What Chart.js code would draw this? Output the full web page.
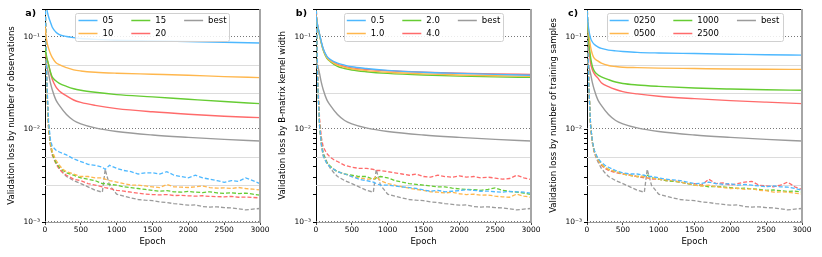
<!DOCTYPE html>
<html>
<head>
<meta charset="utf-8">
<script src="https://cdn.jsdelivr.net/npm/chart.js@4.4.1/dist/chart.umd.min.js"></script>
<style>
  body { margin: 0; background: #fff; }
  canvas { position: absolute; top: 0; }
</style>
</head>
<body>
<canvas id="chartA" width="271" height="257" style="left:0px"></canvas>
<canvas id="chartB" width="271" height="257" style="left:271px"></canvas>
<canvas id="chartC" width="271" height="257" style="left:542px"></canvas>
<script>
const epochsSolid = [0, 25, 50, 75, 100, 150, 200, 300, 400, 500, 700, 1000, 1500, 2000, 2500, 3000];
const epochsDash = [0, 25, 50, 75, 100, 150, 200, 250, 300, 400,
  500, 600, 700, 800, 840, 900, 1000, 1100, 1200, 1300,
  1400, 1500, 1600, 1700, 1800, 1900, 2000, 2100, 2200, 2300,
  2400, 2500, 2600, 2700, 2800, 2900, 3000];

// "best" run, same in every panel
const bestSolid = [0.055, 0.048, 0.04, 0.032, 0.027, 0.021, 0.0182, 0.0145, 0.0125, 0.0115, 0.0104, 0.0095, 0.0087, 0.0082, 0.0078, 0.0075];
const bestDash = [0.3, 0.03, 0.011, 0.0072, 0.0056, 0.0045, 0.0038, 0.0034, 0.0031, 0.0028,
  0.0026, 0.0024, 0.0022, 0.0021, 0.0037, 0.0025, 0.002, 0.0019, 0.00182, 0.00175,
  0.00172, 0.0017, 0.00165, 0.00162, 0.00158, 0.00155, 0.00152, 0.00153, 0.00147, 0.00145,
  0.00146, 0.00143, 0.00142, 0.00139, 0.00135, 0.00138, 0.0014];

// a) number of observations
const namesA = ['05', '10', '15', '20'];
const aSolid05 = [0.3, 0.2, 0.165, 0.145, 0.128, 0.113, 0.106, 0.101, 0.098, 0.096, 0.094, 0.092, 0.0905, 0.089, 0.0875, 0.0857];
const aSolid10 = [0.13, 0.09, 0.075, 0.066, 0.06, 0.053, 0.05, 0.0465, 0.044, 0.0428, 0.0415, 0.0405, 0.0395, 0.0385, 0.0372, 0.0363];
const aSolid15 = [0.075, 0.06, 0.05, 0.042, 0.037, 0.0335, 0.0315, 0.0292, 0.0275, 0.0265, 0.0252, 0.0238, 0.0225, 0.0212, 0.02, 0.019];
const aSolid20 = [0.065, 0.058, 0.05, 0.041, 0.035, 0.029, 0.026, 0.023, 0.0208, 0.0196, 0.0182, 0.0168, 0.0155, 0.0146, 0.0139, 0.0134];
const aDash05 = [0.3, 0.035, 0.012, 0.0078, 0.0066, 0.006, 0.0057, 0.0055, 0.0053, 0.0048,
  0.0045, 0.0042, 0.0041, 0.0039, 0.0037, 0.0041, 0.0038, 0.0036, 0.0035, 0.0033,
  0.0034, 0.0034, 0.0033, 0.0035, 0.0032, 0.0031, 0.003, 0.0032, 0.003, 0.0029,
  0.0028, 0.00268, 0.0028, 0.00275, 0.003, 0.0028, 0.0026];
const aDash10 = [0.3, 0.03, 0.011, 0.0072, 0.0058, 0.0047, 0.0041, 0.0037, 0.0035, 0.0033,
  0.0031, 0.0031, 0.003, 0.003, 0.0029, 0.0028, 0.0027, 0.0026, 0.0025, 0.0025,
  0.00245, 0.0024, 0.00235, 0.00254, 0.0024, 0.00238, 0.00236, 0.0024, 0.00245, 0.00235,
  0.00232, 0.00234, 0.0023, 0.00236, 0.0023, 0.00226, 0.00222];
const aDash15 = [0.3, 0.028, 0.0105, 0.007, 0.0055, 0.0044, 0.0039, 0.0036, 0.0034, 0.0032,
  0.003, 0.0029, 0.0028, 0.0026, 0.0026, 0.00255, 0.0025, 0.0024, 0.00235, 0.0023,
  0.00225, 0.0022, 0.00215, 0.00218, 0.00212, 0.0021, 0.00214, 0.0021, 0.00208, 0.00212,
  0.00206, 0.00204, 0.00207, 0.00203, 0.00205, 0.002, 0.00195];
const aDash20 = [0.3, 0.027, 0.01, 0.0068, 0.0053, 0.0043, 0.0037, 0.0034, 0.0032, 0.0029,
  0.0028, 0.0026, 0.0025, 0.0024, 0.00235, 0.0023, 0.0022, 0.00215, 0.0021, 0.00205,
  0.002, 0.00198, 0.00196, 0.00198, 0.00193, 0.00194, 0.00192, 0.0019, 0.00192, 0.00189,
  0.00188, 0.00187, 0.00189, 0.00185, 0.00186, 0.00184, 0.00182];

// b) B-matrix kernel width
const namesB = ['0.5', '1.0', '2.0', '4.0'];
const bSolid05 = [0.17, 0.13, 0.107, 0.088, 0.075, 0.062, 0.057, 0.052, 0.0495, 0.0475, 0.0455, 0.0435, 0.0415, 0.0403, 0.0393, 0.0385];
const bSolid10 = [0.17, 0.128, 0.105, 0.086, 0.073, 0.06, 0.055, 0.0495, 0.047, 0.0452, 0.0432, 0.0415, 0.0398, 0.0388, 0.038, 0.0375];
const bSolid20 = [0.17, 0.127, 0.104, 0.085, 0.072, 0.059, 0.054, 0.048, 0.0455, 0.0438, 0.042, 0.0403, 0.0387, 0.0377, 0.037, 0.0365];
const bSolid40 = [0.175, 0.13, 0.106, 0.087, 0.074, 0.061, 0.056, 0.0505, 0.048, 0.0462, 0.0445, 0.043, 0.0415, 0.0405, 0.0398, 0.0393];
const bDash05 = [0.3, 0.03, 0.011, 0.0068, 0.0052, 0.0043, 0.0039, 0.0037, 0.0035, 0.0033,
  0.0031, 0.0029, 0.0028, 0.0027, 0.0026, 0.0025, 0.0025, 0.00245, 0.0024, 0.00235,
  0.0023, 0.00222, 0.00215, 0.0022, 0.00212, 0.00215, 0.00218, 0.00224, 0.0022, 0.00215,
  0.00216, 0.00212, 0.0021, 0.00214, 0.00212, 0.0021, 0.00205];
const bDash10 = [0.3, 0.03, 0.011, 0.0068, 0.0052, 0.0043, 0.0039, 0.0037, 0.0035, 0.0033,
  0.0031, 0.003, 0.0029, 0.0029, 0.0031, 0.0028, 0.0026, 0.0025, 0.0024, 0.00232,
  0.00225, 0.0022, 0.00212, 0.0021, 0.00206, 0.0021, 0.00202, 0.00198, 0.002, 0.00195,
  0.00196, 0.0019, 0.00187, 0.00185, 0.002, 0.0019, 0.00185];
const bDash20 = [0.3, 0.03, 0.011, 0.007, 0.0054, 0.0044, 0.004, 0.0037, 0.0035, 0.0033,
  0.0032, 0.0031, 0.0031, 0.0029, 0.003, 0.0031, 0.003, 0.0028, 0.0027, 0.0026,
  0.00255, 0.0025, 0.00245, 0.0024, 0.0024, 0.00232, 0.00228, 0.00225, 0.00224, 0.0022,
  0.00225, 0.00234, 0.0022, 0.00214, 0.0021, 0.00205, 0.00198];
const bDash40 = [0.3, 0.035, 0.013, 0.0082, 0.0065, 0.0055, 0.005, 0.0047, 0.0045, 0.0041,
  0.0039, 0.0038, 0.0038, 0.0037, 0.0036, 0.0036, 0.0035, 0.0034, 0.0033, 0.0032,
  0.0033, 0.0031, 0.00305, 0.0032, 0.0031, 0.00305, 0.00315, 0.00305, 0.0031, 0.003,
  0.00305, 0.00298, 0.0029, 0.00295, 0.0032, 0.003, 0.00288];

// c) number of training samples
const namesC = ['0250', '0500', '1000', '2500'];
const cSolid0250 = [0.18, 0.12, 0.097, 0.088, 0.083, 0.078, 0.075, 0.072, 0.0705, 0.0695, 0.068, 0.067, 0.066, 0.065, 0.064, 0.0635];
const cSolid0500 = [0.18, 0.11, 0.078, 0.065, 0.059, 0.055, 0.052, 0.049, 0.0478, 0.047, 0.0465, 0.046, 0.0455, 0.045, 0.0447, 0.0445];
const cSolid1000 = [0.18, 0.09, 0.06, 0.048, 0.043, 0.039, 0.037, 0.0345, 0.0325, 0.0313, 0.0302, 0.0292, 0.028, 0.0273, 0.0268, 0.0265];
const cSolid2500 = [0.18, 0.08, 0.052, 0.044, 0.04, 0.036, 0.032, 0.029, 0.027, 0.0256, 0.0242, 0.0228, 0.0215, 0.0205, 0.0197, 0.019];
const cDash0250 = [0.3, 0.03, 0.011, 0.0075, 0.006, 0.0049, 0.0044, 0.0041, 0.0039, 0.0036,
  0.0034, 0.0033, 0.0033, 0.0032, 0.0031, 0.0031, 0.003, 0.0029, 0.00285, 0.0028,
  0.0027, 0.0026, 0.00262, 0.0027, 0.0026, 0.00255, 0.0026, 0.0025, 0.00255, 0.0025,
  0.00245, 0.0024, 0.00245, 0.0024, 0.00238, 0.0023, 0.0022];
const cDash0500 = [0.3, 0.03, 0.011, 0.0072, 0.0058, 0.0047, 0.0042, 0.0039, 0.0037, 0.0035,
  0.0033, 0.0032, 0.0031, 0.0031, 0.003, 0.003, 0.0029, 0.00285, 0.0028, 0.0027,
  0.00262, 0.0025, 0.00245, 0.0025, 0.0024, 0.00235, 0.0023, 0.00232, 0.00225, 0.0023,
  0.0022, 0.00218, 0.0021, 0.00212, 0.0021, 0.00205, 0.002];
const cDash1000 = [0.3, 0.03, 0.011, 0.0073, 0.0059, 0.0048, 0.0042, 0.0039, 0.0037, 0.0035,
  0.0033, 0.0032, 0.0031, 0.0031, 0.0032, 0.003, 0.0029, 0.0028, 0.00275, 0.0027,
  0.0026, 0.0025, 0.00248, 0.0024, 0.00242, 0.0024, 0.00235, 0.0023, 0.00232, 0.00228,
  0.00225, 0.0022, 0.00222, 0.00218, 0.00214, 0.00216, 0.0021];
const cDash2500 = [0.3, 0.03, 0.011, 0.0072, 0.0058, 0.0047, 0.0041, 0.0038, 0.0036, 0.0034,
  0.0033, 0.0032, 0.0031, 0.003, 0.003, 0.0029, 0.0029, 0.0028, 0.0028, 0.0027,
  0.0026, 0.0026, 0.0025, 0.0029, 0.0026, 0.00265, 0.0025, 0.0026, 0.0027, 0.00275,
  0.0025, 0.00245, 0.0024, 0.0025, 0.0027, 0.0024, 0.00225];

// axis ticks
const xTicks = [0, 500, 1000, 1500, 2000, 2500, 3000];
const yTicks = [0.001, 0.002, 0.003, 0.004, 0.005, 0.006, 0.007, 0.008, 0.009,
  0.01, 0.02, 0.03, 0.04, 0.05, 0.06, 0.07, 0.08, 0.09, 0.1, 0.2];
const yTickLabels = { 0.001: '10⁻³', 0.01: '10⁻²', 0.1: '10⁻¹' };
const dottedLines = [0.1, 0.01, 0.001];
const lightLines = [0.05, 0.025, 0.005, 0.0025];

const seriesColors = ['rgb(77,184,255)', 'rgb(255,183,77)', 'rgb(102,204,51)', 'rgb(255,107,107)'];
const bestColor = 'rgb(155,155,155)';
const FONT = 'DejaVu Sans';

Chart.defaults.font.family = FONT;
Chart.defaults.color = '#000';

function points(xs, ys) {
    return xs.map((x, i) => ({ x: x, y: ys[i] }));
}

// grid lines, frame, legend and panel letter
const decorPlugin = {
    id: 'decor',
    beforeDatasetsDraw(chart) {
        const { ctx, chartArea: a, scales: { y } } = chart;
        ctx.save();
        ctx.lineWidth = 1;
        ctx.strokeStyle = '#dcdcdc';
        lightLines.forEach(v => {
            const py = Math.round(y.getPixelForValue(v)) + 0.5;
            ctx.beginPath(); ctx.moveTo(a.left, py); ctx.lineTo(a.right, py); ctx.stroke();
        });
        ctx.strokeStyle = '#777';
        ctx.setLineDash([1, 2]);
        dottedLines.forEach(v => {
            const py = Math.round(y.getPixelForValue(v)) - 0.5;
            ctx.beginPath(); ctx.moveTo(a.left, py); ctx.lineTo(a.right, py); ctx.stroke();
        });
        ctx.restore();
    },
    afterDraw(chart) {
        const { ctx, chartArea: a } = chart;
        const opts = chart.options.plugins.decor;
        ctx.save();
        // top spine and grey right spine
        ctx.strokeStyle = '#000';
        ctx.lineWidth = 1;
        ctx.beginPath(); ctx.moveTo(a.left, a.top + 0.5); ctx.lineTo(a.right, a.top + 0.5); ctx.stroke();
        ctx.strokeStyle = '#a6a6a6';
        ctx.lineWidth = 2;
        ctx.beginPath(); ctx.moveTo(a.right, a.top); ctx.lineTo(a.right, a.bottom); ctx.stroke();

        // legend: 3 columns, upper centre
        const items = chart.data.datasets.filter(d => d.inLegend);
        const cols = [[items[0], items[1]], [items[2], items[3]], [items[4]]];
        ctx.font = '8.5px ' + FONT;
        const handle = 19, pad = 5, gap = 18, box = 3;
        const widths = cols.map(c => handle + pad + Math.max(...c.map(it => ctx.measureText(it.label).width)));
        const total = widths.reduce((s, w) => s + w, 0) + gap * 2 + box * 2;
        const left = (a.left + a.right) / 2 - total / 2;
        const top = a.top + 4;
        ctx.fillStyle = 'rgba(255,255,255,0.85)';
        ctx.strokeStyle = '#d0d0d0';
        ctx.lineWidth = 1;
        ctx.beginPath();
        ctx.roundRect(Math.round(left) + 0.5, top + 0.5, Math.round(total), 28, 2);
        ctx.fill(); ctx.stroke();
        let cx = left + box;
        cols.forEach((c, ci) => {
            c.forEach((it, ri) => {
                const cy = top + 7.5 + ri * 13;
                ctx.strokeStyle = it.borderColor;
                ctx.lineWidth = 1.5;
                ctx.beginPath(); ctx.moveTo(cx, cy); ctx.lineTo(cx + handle, cy); ctx.stroke();
                ctx.fillStyle = '#000';
                ctx.textBaseline = 'middle';
                ctx.textAlign = 'left';
                ctx.fillText(it.label, cx + handle + pad, cy + 0.5);
            });
            cx += widths[ci] + gap;
        });

        // panel letter
        ctx.font = 'bold 9.5px ' + FONT;
        ctx.fillStyle = '#000';
        ctx.textAlign = 'right';
        ctx.textBaseline = 'middle';
        ctx.fillText(opts.letter, 36, 14);
        ctx.restore();
    }
};

function makePanel(id, letter, yTitle, names, solids, dashes) {
    const datasets = [];
    names.forEach((name, i) => {
        datasets.push({
            label: name, inLegend: true,
            data: points(epochsSolid, solids[i]),
            borderColor: seriesColors[i], borderWidth: 1.4,
            pointRadius: 0, cubicInterpolationMode: 'monotone'
        });
    });
    names.forEach((name, i) => {
        datasets.push({
            label: name + ' (dashed)',
            data: points(epochsDash, dashes[i]),
            borderColor: seriesColors[i], borderWidth: 1.3, borderDash: [4, 2],
            pointRadius: 0, tension: 0
        });
    });
    datasets.push({
        label: 'best', inLegend: true,
        data: points(epochsSolid, bestSolid),
        borderColor: bestColor, borderWidth: 1.4,
        pointRadius: 0, cubicInterpolationMode: 'monotone'
    });
    datasets.push({
        label: 'best (dashed)',
        data: points(epochsDash, bestDash),
        borderColor: bestColor, borderWidth: 1.3, borderDash: [4, 2],
        pointRadius: 0, tension: 0
    });

    return new Chart(document.getElementById(id), {
        type: 'line',
        data: { datasets: datasets },
        options: {
            responsive: false,
            animation: false,
            devicePixelRatio: 1,
            layout: { padding: { top: 9, right: 11, left: 0, bottom: 0 } },
            plugins: {
                legend: { display: false },
                tooltip: { enabled: false },
                decor: { letter: letter }
            },
            scales: {
                x: {
                    type: 'linear', min: 0, max: 3000,
                    afterFit: s => { s.height = 35; },
                    afterBuildTicks: s => { s.ticks = xTicks.map(v => ({ value: v })); },
                    ticks: { font: { size: 7.5 }, padding: 1, maxRotation: 0, autoSkip: false,
                             callback: v => String(v) },
                    grid: { drawOnChartArea: false, tickLength: 3, tickColor: '#444' },
                    border: { color: '#9a9a9a', width: 1 },
                    title: { display: true, text: 'Epoch', font: { size: 8.5 }, padding: { top: 0, bottom: 10 } }
                },
                y: {
                    type: 'logarithmic', min: 0.001, max: 0.2,
                    afterFit: s => { s.width = 45; },
                    afterBuildTicks: s => { s.ticks = yTicks.map(v => ({ value: v })); },
                    ticks: { font: { size: 7.5 }, padding: 2, autoSkip: false,
                             callback: v => yTickLabels[v] || '' },
                    grid: { drawOnChartArea: false, tickLength: 3, tickColor: '#000' },
                    border: { color: '#000', width: 1 },
                    title: { display: true, text: yTitle, font: { size: 8.5 }, padding: { top: 7, bottom: 0 } }
                }
            }
        },
        plugins: [decorPlugin]
    });
}

makePanel('chartA', 'a)', 'Validation loss by number of observations', namesA,
    [aSolid05, aSolid10, aSolid15, aSolid20], [aDash05, aDash10, aDash15, aDash20]);
makePanel('chartB', 'b)', 'Validation loss by B-matrix kernel width', namesB,
    [bSolid05, bSolid10, bSolid20, bSolid40], [bDash05, bDash10, bDash20, bDash40]);
makePanel('chartC', 'c)', 'Validation loss by number of training samples', namesC,
    [cSolid0250, cSolid0500, cSolid1000, cSolid2500], [cDash0250, cDash0500, cDash1000, cDash2500]);
</script>
</body>
</html>
